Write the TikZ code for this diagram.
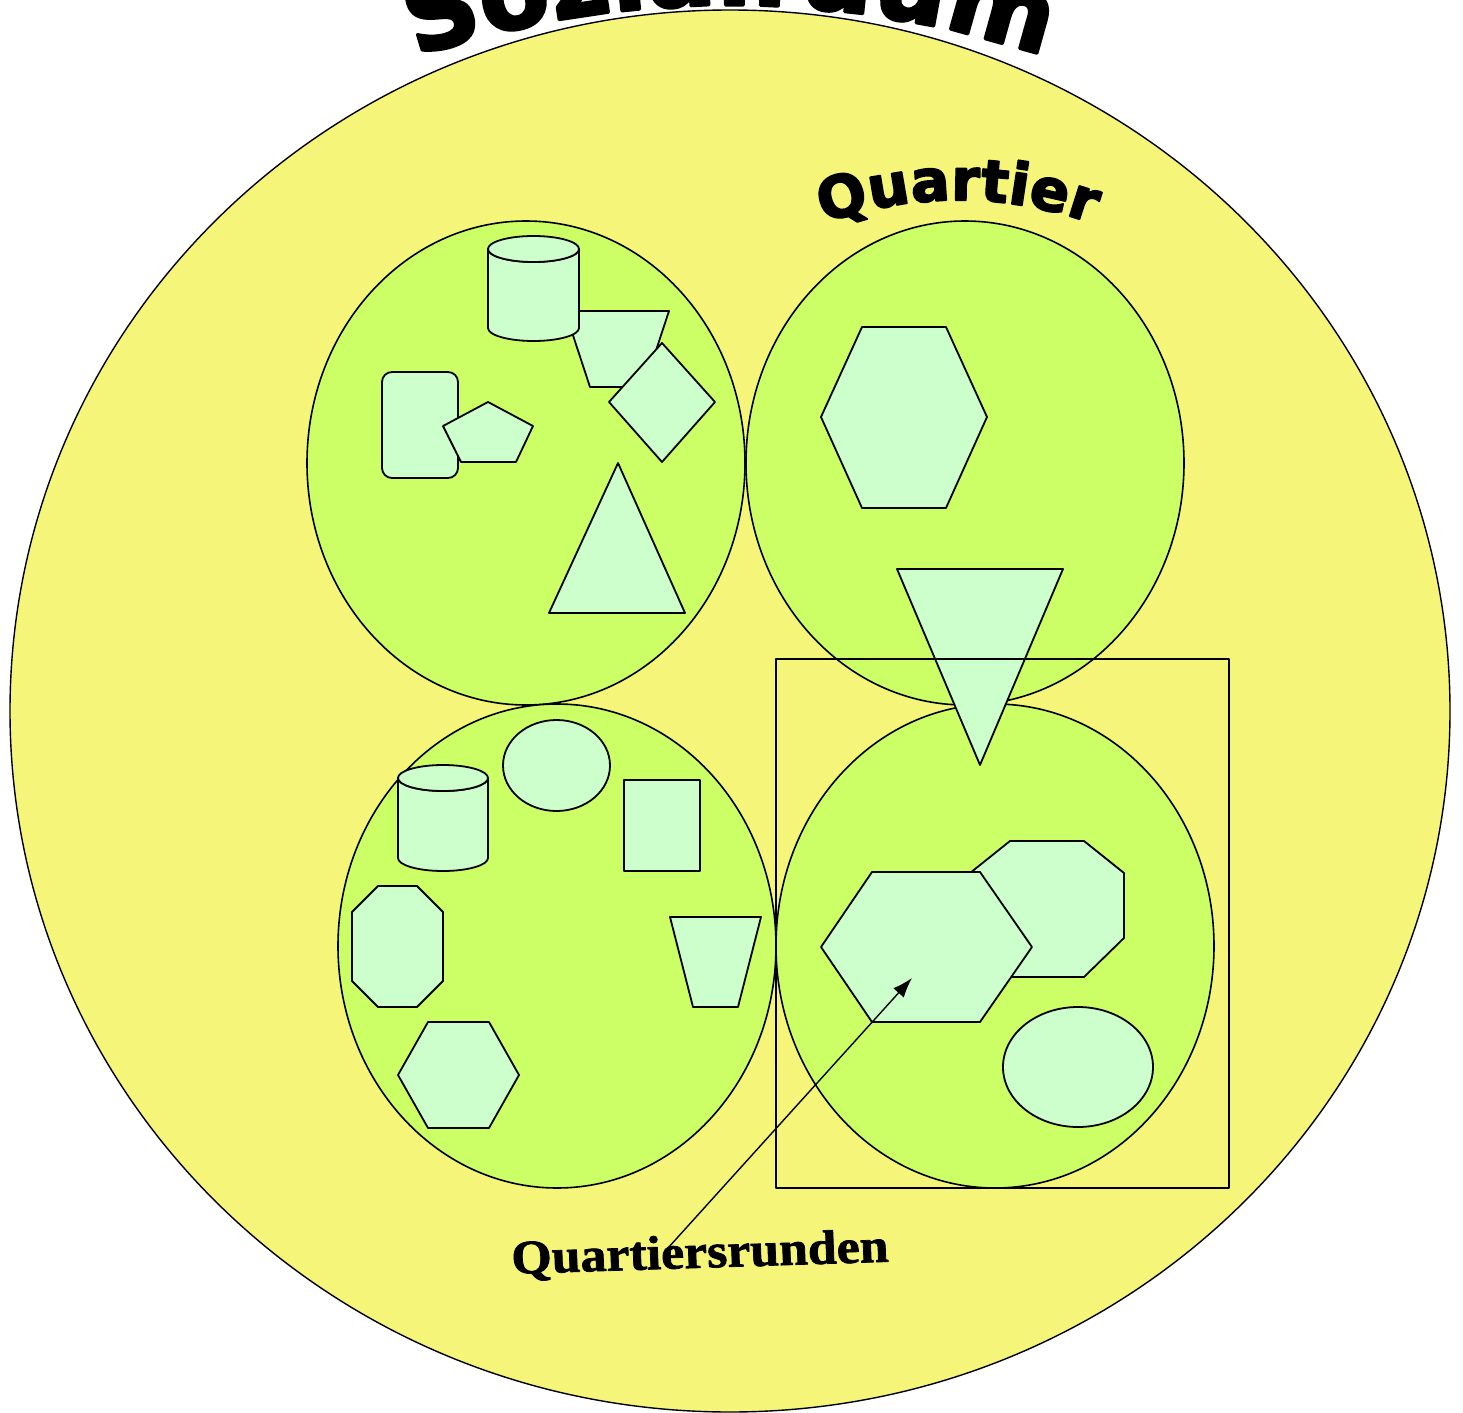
\documentclass[tikz,border=0pt]{standalone}
\usepackage{fontspec}
\usetikzlibrary{arrows.meta,decorations.text}
\definecolor{raumgelb}{RGB}{245,245,122}
\definecolor{quartgruen}{RGB}{204,255,102}
\definecolor{formgruen}{RGB}{204,255,204}
\newfontfamily\titelfont{DejaVu Sans}[BoldFeatures={FakeBold=3}]
\newfontfamily\rundenfont{Liberation Serif}[BoldFeatures={FakeBold=1.5}]
% #1 centre x, #2 half width, #3 top y, #4 bottom y
\newcommand{\tonne}[4]{%
    \draw[form] ({#1-#2},#3) -- ({#1-#2},#4)
        arc[start angle=180, end angle=0, x radius=#2, y radius=13] -- ({#1+#2},#3)
        arc[start angle=0, end angle=180, x radius=#2, y radius=13] -- cycle;
    \draw[form] (#1,#3) ellipse [x radius=#2, y radius=13];}

\begin{document}
\begin{tikzpicture}[x=0.5pt,y=-0.5pt,line join=round,
    raum/.style={draw,fill=raumgelb,line width=0.7pt},
    quartier/.style={draw,fill=quartgruen,line width=0.8pt},
    form/.style={draw,fill=formgruen,line width=0.9pt}]
    \useasboundingbox (0,0) rectangle (1463,1413);

    \draw[raum] (730,711) ellipse [x radius=720, y radius=701];
    \path[decorate,decoration={text along path,text align=center,
        text={|\titelfont\bfseries\fontsize{51}{60}\selectfont|Sozialraum}}]
        (330,90.5) .. controls (584,-23.5) and (876,-23.5) .. (1130,90.5);
    \path[decorate,decoration={text along path,text align=center,
        text={|\titelfont\bfseries\fontsize{29}{35}\selectfont|Quartier}}]
        (791,237) .. controls (897,188) and (1019,188) .. (1125,237);

    % Quartiere
    \draw[quartier] (526,463) ellipse [x radius=219, y radius=242];
    \draw[quartier] (965,463) ellipse [x radius=219, y radius=242];
    \draw[quartier] (557,946) ellipse [x radius=219, y radius=242];
    \draw[quartier] (995,946) ellipse [x radius=219, y radius=242];

    % oben links
    \draw[form] (565,311) -- (669,311) -- (644,387) -- (590,387) -- cycle;
    \tonne{533.5}{45.5}{249}{328}
    \draw[form] (609,402) -- (662,343) -- (715,402) -- (662,462) -- cycle;
    \draw[form,rounded corners=5pt] (382,372) rectangle (458,478);
    \draw[form] (488,402) -- (533,426) -- (516,462) -- (461,462) -- (443,426) -- cycle;
    \draw[form] (618,463) -- (685,613) -- (549,613) -- cycle;

    % oben rechts
    \draw[form] (821,417) -- (862,327) -- (946,327) -- (987,417) -- (946,508) -- (862,508) -- cycle;

    % unten links
    \tonne{443}{45}{778}{858}
    \draw[form] (556.5,765.5) ellipse [x radius=53.5, y radius=45.5];
    \draw[form] (624,780) rectangle (700,871);
    \draw[form] (378,886) -- (417,886) -- (443,912) -- (443,981) -- (417,1007) -- (378,1007) -- (352,981) -- (352,912) -- cycle;
    \draw[form] (670,917) -- (761,917) -- (738,1007) -- (693,1007) -- cycle;
    \draw[form] (398,1075) -- (428,1022) -- (489,1022) -- (519,1075) -- (489,1128) -- (428,1128) -- cycle;

    % unten rechts
    \draw[form] (1010,841) -- (1084,841) -- (1124,873) -- (1124,938) -- (1084,977) -- (1010,977) -- (970,938) -- (970,873) -- cycle;
    \draw[form] (821,947) -- (872,872) -- (980,872) -- (1032,947) -- (980,1022) -- (872,1022) -- cycle;
    \draw[form] (1078,1067) ellipse [x radius=75, y radius=60];
    \draw[form] (897,569) -- (1063,569) -- (980,765) -- cycle;

    \draw[line width=0.8pt] (776,659) rectangle (1229,1188);

    \node[font=\rundenfont\bfseries\fontsize{24}{24}\selectfont, xscale=1.08, rotate=2] (runden) at (700,1255) {Quartiersrunden};
    \coordinate (fuss) at (668,1248);
    \coordinate (ziel) at (912,978);
    \draw[-{Latex[length=10pt,width=7pt]},line width=0.7pt] (fuss) -- (ziel);
\end{tikzpicture}
\end{document}
